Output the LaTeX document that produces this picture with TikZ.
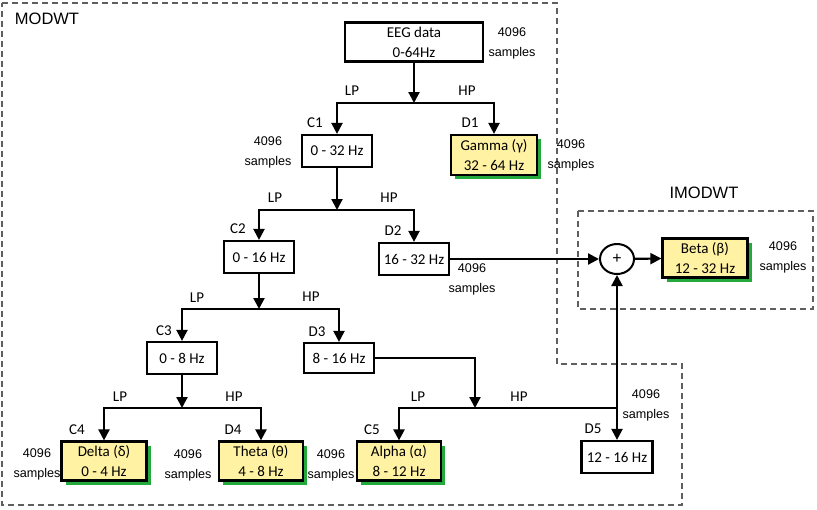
\documentclass[tikz,border=0pt]{standalone}
\usepackage{fontspec}
\usetikzlibrary{arrows.meta,shapes.geometric,shadows}
\newfontfamily\carlito{Carlito}
\newfontfamily\arial{Liberation Sans}
\newcommand{\bxfont}{\carlito\fontsize{15}{20}\selectfont}
\newcommand{\smfont}{\arial\fontsize{12.6}{20}\selectfont}
\newcommand{\ttlfont}{\arial\fontsize{16.5}{20}\selectfont}
\definecolor{bandyellow}{RGB}{255,242,162}
\definecolor{bandgreen}{RGB}{36,170,60}
\definecolor{framegray}{RGB}{95,95,95}
\begin{document}
\begin{tikzpicture}[x=1pt,y=-1pt,
    box/.style={draw, line width=2.2pt, inner sep=0pt, minimum width=70pt,
        minimum height=32pt, align=center, font=\bxfont},
    band/.style={box, fill=bandyellow, minimum width=85pt, minimum height=39pt,
        drop shadow={shadow xshift=4pt, shadow yshift=-4pt, fill=bandgreen, opacity=1}},
    arr/.style={line width=2.2pt, -{Triangle[length=11pt,width=11pt]}},
    lbl/.style={font=\bxfont},
    smp/.style={font=\smfont, align=center},
    border/.style={draw=framegray, line width=1.6pt, dash pattern=on 6pt off 4pt}]
    \useasboundingbox (0,0) rectangle (817,509);

    %frames
    \draw[border] (2,3) -- (557,3) -- (557,364) -- (682,364) -- (682,505) -- (2,505) -- cycle;
    \draw[border] (578,211) rectangle (813,309);
    \node[font=\ttlfont] (modwt) at (47,19) {MODWT};
    \node[font=\ttlfont] (imodwt) at (704,193) {IMODWT};

    %boxes
    \node[box, minimum width=138pt, minimum height=39pt] (eeg) at (414,42) {EEG data\\0-64Hz};
    \node[box] (c1) at (337,151) {0 - 32 Hz};
    \node[band, minimum width=86pt, minimum height=40pt] (d1) at (494,155) {Gamma (γ)\\32 - 64 Hz};
    \node[box] (c2) at (259,257) {0 - 16 Hz};
    \node[box] (d2) at (414,259) {16 - 32 Hz};
    \node[box] (c3) at (182,358) {0 - 8 Hz};
    \node[box, minimum height=30pt] (d3) at (339,358) {8 - 16 Hz};
    \node[band] (c4) at (104,461) {Delta (δ)\\0 - 4 Hz};
    \node[band, minimum width=84pt] (d4) at (261,461) {Theta (θ)\\4 - 8 Hz};
    \node[band, minimum width=84pt] (c5) at (399,461) {Alpha (α)\\8 - 12 Hz};
    \node[box, minimum width=71pt] (d5) at (617,457) {12 - 16 Hz};
    \node[draw, ellipse, line width=2pt, minimum width=34pt, minimum height=30pt,
        inner sep=0pt, font=\arial\fontsize{16}{16}\selectfont] (sum) at (617,259) {+};
    \node[band] (beta) at (705,258) {Beta (β)\\12 - 32 Hz};

    %junctions
    \coordinate (j1) at (eeg |- 0,103);
    \coordinate (j2) at (c1 |- 0,210);
    \coordinate (j3) at (c2 |- 0,309);
    \coordinate (j4) at (c3 |- 0,408);
    \coordinate (j5) at (475,408);

    %arrows
    \draw[arr] (eeg) -- (j1);
    \draw[arr] (j1) -| (c1);
    \draw[arr] (j1) -| (d1);
    \draw[arr] (c1) -- (j2);
    \draw[arr] (j2) -| (c2);
    \draw[arr] (j2) -| (d2);
    \draw[arr] (c2) -- (j3);
    \draw[arr] (j3) -| (c3);
    \draw[arr] (j3) -| (d3);
    \draw[arr] (c3) -- (j4);
    \draw[arr] (j4) -| (c4);
    \draw[arr] (j4) -| (d4);
    \draw[arr] (d3.east) -| (j5);
    \draw[arr] (j5) -| (c5);
    \draw[arr] (j5) -| (d5);
    \draw[arr] (d5 |- j5) -- (sum);
    \draw[arr] (d2) -- (sum);
    \draw[arr] (sum) -- (beta);

    %labels
    \node[lbl] (lp1) at (352,91) {LP};
    \node[lbl] (hp1) at (467,91) {HP};
    \node[lbl] (nc1) at (315,123) {C1};
    \node[lbl] (nd1) at (470,123) {D1};
    \node[lbl] (lp2) at (275,198) {LP};
    \node[lbl] (hp2) at (389,198) {HP};
    \node[lbl] (nc2) at (238,229) {C2};
    \node[lbl] (nd2) at (393,231) {D2};
    \node[lbl] (lp3) at (197,298) {LP};
    \node[lbl] (hp3) at (311,297) {HP};
    \node[lbl] (nc3) at (164,331) {C3};
    \node[lbl] (nd3) at (317,332) {D3};
    \node[lbl] (lp4) at (120,397) {LP};
    \node[lbl] (hp4) at (234,397) {HP};
    \node[lbl] (nc4) at (77,430) {C4};
    \node[lbl] (nd4) at (233,430) {D4};
    \node[lbl] (lp5) at (418,397) {LP};
    \node[lbl] (hp5) at (519,397) {HP};
    \node[lbl] (nc5) at (372,430) {C5};
    \node[lbl] (nd5) at (593,429) {D5};

    %samples
    \node[smp] (s0) at (512,43) {4096\\samples};
    \node[smp] (s1) at (268,152) {4096\\samples};
    \node[smp] (s2) at (571,155) {4096\\samples};
    \node[smp] (s3) at (472,279) {4096\\samples};
    \node[smp] (s4) at (783,257) {4096\\samples};
    \node[smp] (s5) at (37,464) {4096\\samples};
    \node[smp] (s6) at (188,465) {4096\\samples};
    \node[smp] (s7) at (331,465) {4096\\samples};
    \node[smp] (s8) at (646,405) {4096\\samples};
\end{tikzpicture}
\end{document}
